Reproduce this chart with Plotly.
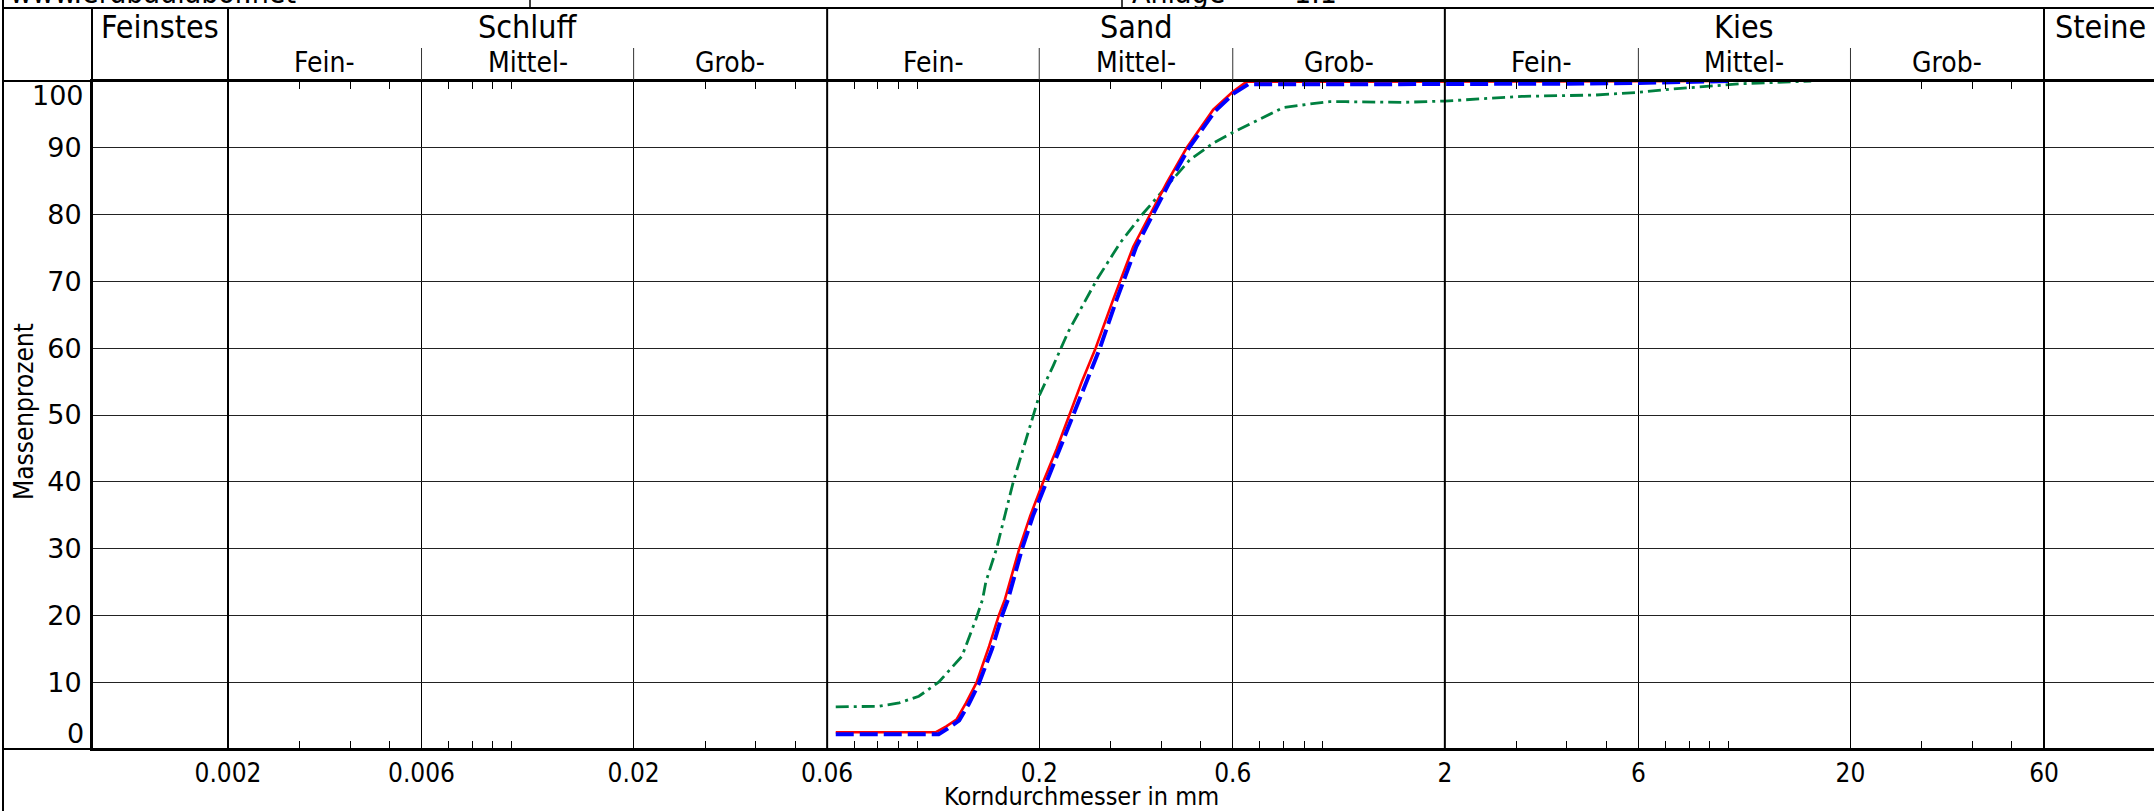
import math
import plotly.graph_objects as go

# ---------------- data ----------------
d_red = [0.063, 0.08, 0.1, 0.111, 0.118, 0.125, 0.132, 0.14, 0.1505, 0.159, 0.1646, 0.1786,
         0.19, 0.2046, 0.2208, 0.2371, 0.2544, 0.2754, 0.304, 0.341, 0.375, 0.412, 0.462,
         0.537, 0.6, 0.649, 1.0, 2.0, 4.0, 6.0, 8.0, 10.0]
p_red = [2.5, 2.5, 2.5, 2.5, 3.4, 4.4, 6.9, 9.9, 15.4, 20.0, 22.4, 30.0,
         34.9, 40.0, 44.9, 50.0, 54.9, 60.0, 67.2, 75.2, 80.0, 84.7, 90.0,
         95.7, 98.4, 99.9, 99.9, 99.9, 99.9, 99.9, 100.0, 100.0]

d_blue = [0.063, 0.08, 0.1, 0.113, 0.12, 0.127, 0.134, 0.142, 0.153, 0.162, 0.1675, 0.1815,
          0.193, 0.2086, 0.225, 0.2426, 0.262, 0.2822, 0.31, 0.347, 0.381, 0.418, 0.468,
          0.543, 0.605, 0.655, 1.0, 2.0, 4.0, 6.0, 8.0, 10.0]
p_blue = [2.2, 2.2, 2.2, 2.2, 3.2, 4.3, 6.7, 9.8, 15.0, 20.0, 22.4, 30.0,
          34.9, 40.0, 44.9, 50.0, 54.9, 60.0, 67.2, 75.2, 80.0, 84.7, 90.0,
          95.5, 98.2, 99.5, 99.5, 99.5, 99.6, 99.7, 99.8, 100.0]

d_green = [0.063, 0.0733, 0.0806, 0.0903, 0.101, 0.113, 0.129, 0.1396, 0.145, 0.1477, 0.157,
           0.1726, 0.1933, 0.2, 0.2166, 0.236, 0.277, 0.316, 0.361, 0.412, 0.47, 0.537, 0.6,
           0.674, 0.797, 0.914, 1.04, 1.14, 1.57, 2.0, 3.1, 4.7, 6.0, 7.3, 8.4, 10.8, 16.0]
p_green = [6.3, 6.3, 6.4, 6.9, 7.9, 10.0, 13.9, 19.4, 22.4, 25.0, 30.0,
           40.0, 50.0, 52.9, 57.4, 62.5, 70.2, 75.7, 80.2, 84.2, 88.2, 90.7, 92.3,
           93.8, 96.0, 96.5, 96.9, 96.9, 96.8, 97.0, 97.7, 97.9, 98.3, 98.8, 99.1, 99.6, 100.0]

x_tickvals = [0.002, 0.006, 0.02, 0.06, 0.2, 0.6, 2, 6, 20, 60]
x_ticktext = ["0.002", "0.006", "0.02", "0.06", "0.2", "0.6", "2", "6", "20", "60"]
x_minor = [0.003, 0.004, 0.005, 0.007, 0.008, 0.009, 0.01,
           0.03, 0.04, 0.05, 0.07, 0.08, 0.09, 0.1,
           0.3, 0.4, 0.5, 0.7, 0.8, 0.9, 1,
           3, 4, 5, 7, 8, 9, 10,
           30, 40, 50]
y_tickvals = [10, 20, 30, 40, 50, 60, 70, 80, 90]
y_ticktext = ["10", "20", "30", "40", "50", "60", "70", "80", "90"]

main_bounds = [0.002, 0.06, 2, 60]          # Schluff | Sand | Kies | Steine
sub_bounds = [0.006, 0.02, 0.2, 0.6, 6, 20]  # Fein/Mittel/Grob dividers
main_groups = ["Schluff", "Sand", "Kies"]
sub_groups = ["Fein-", "Mittel-", "Grob-"]

# ---------------- layout geometry ----------------
W, H = 2154, 811
L, R, T, B = 92, 0, 81, 62
PW, PH = W - L - R, H - T - B
ppd = (2044 - 228) / (math.log10(60) - math.log10(0.002))
xmin = math.log10(0.002) - (228 - L) / ppd
xmax = xmin + PW / ppd


def xp(px):
    return (px - L) / PW


def yp(py):
    return (H - B - py) / PH


COND = "DejaVu Sans Condensed, Liberation Sans Narrow, DejaVu Sans, sans-serif"
WIDE = "DejaVu Sans, Verdana, sans-serif"

fig = go.Figure()
fig.add_trace(go.Scatter(x=d_green, y=p_green, mode="lines",
                         line=dict(color="#008040", width=2.8, dash="13px,5px,3px,5px"),
                         hoverinfo="skip"))
fig.add_trace(go.Scatter(x=d_red, y=p_red, mode="lines",
                         line=dict(color="#ff0000", width=2.6), hoverinfo="skip"))
fig.add_trace(go.Scatter(x=d_blue, y=p_blue, mode="lines",
                         line=dict(color="#0000ff", width=4, dash="18px,6px"),
                         hoverinfo="skip"))

shapes = []
for v in main_bounds:
    shapes.append(dict(type="line", xref="x", yref="paper", x0=v, x1=v, y0=0, y1=yp(8),
                       line=dict(color="black", width=2), layer="above"))
for v in sub_bounds:
    shapes.append(dict(type="line", xref="x", yref="paper", x0=v, x1=v, y0=1, y1=yp(48),
                       line=dict(color="#333333", width=1), layer="above"))
shapes.append(dict(type="line", xref="paper", yref="paper", x0=0, x1=0, y0=0, y1=yp(8),
                   line=dict(color="black", width=2), layer="above"))
shapes.append(dict(type="line", xref="paper", yref="paper", x0=xp(3), x1=xp(3), y0=yp(H), y1=yp(0),
                   line=dict(color="black", width=2), layer="above"))
for py in (8, 81, 749):
    shapes.append(dict(type="line", xref="paper", yref="paper", x0=xp(3), x1=1, y0=yp(py), y1=yp(py),
                       line=dict(color="black", width=2), layer="above"))
for px in (530, 1122):
    shapes.append(dict(type="line", xref="paper", yref="paper", x0=xp(px), x1=xp(px), y0=yp(8), y1=yp(0),
                       line=dict(color="black", width=1.5), layer="above"))


def label(text, x, y, size, family=COND, xref="paper", xanchor="center", angle=0):
    return dict(text=text, xref=xref, yref="paper", x=x, y=y, xanchor=xanchor, yanchor="middle",
                textangle=angle, showarrow=False, font=dict(family=family, size=size, color="black"))


ann = []
hdr_y = yp(27)
sub_y = yp(62)
ann.append(label("Feinstes", xp(160), hdr_y, 32))
for g, lo, hi in zip(main_groups, main_bounds[:-1], main_bounds[1:]):
    ann.append(label(g, (math.log10(lo) + math.log10(hi)) / 2, hdr_y, 32, xref="x"))
    edges = [lo] + [b for b in sub_bounds if lo < b < hi] + [hi]
    for s, a, b in zip(sub_groups, edges[:-1], edges[1:]):
        ann.append(label(s, (math.log10(a) + math.log10(b)) / 2, sub_y, 28, xref="x"))
ann.append(label("Steine", xp(2100), hdr_y, 32))
ann.append(label("100", xp(86), yp(96), 27, family=WIDE, xanchor="right"))
ann.append(label("0", xp(86), yp(733), 27, family=WIDE, xanchor="right"))
ann.append(label("Massenprozent", xp(24), yp(412), 26, angle=-90))
ann.append(label("Korndurchmesser in mm", xp(1081), yp(797), 25))
ann.append(label("www.erdbaulabor.net", xp(8), yp(-8), 30, xanchor="left"))
ann.append(label("Anlage", xp(1130), yp(-8), 30, xanchor="left"))
ann.append(label("1.1", xp(1292), yp(-8), 30, xanchor="left"))

fig.update_layout(
    width=W, height=H,
    margin=dict(l=L, r=R, t=T, b=B, pad=0),
    paper_bgcolor="white", plot_bgcolor="white",
    showlegend=False,
    shapes=shapes, annotations=ann,
    xaxis=dict(type="log", range=[xmin, xmax], tickvals=x_tickvals, ticktext=x_ticktext,
               ticks="", showgrid=True, gridcolor="black", gridwidth=1,
               showline=True, linecolor="black", linewidth=2, mirror="ticks",
               tickfont=dict(family=COND, size=26, color="black"), ticklabelstandoff=0,
               minor=dict(tickvals=x_minor, ticks="inside", ticklen=8, tickwidth=1.2,
                          tickcolor="black", showgrid=False),
               zeroline=False, fixedrange=True, automargin=False),
    yaxis=dict(range=[0, 100], tickvals=y_tickvals, ticktext=y_ticktext, ticks="",
               showgrid=True, gridcolor="#222222", gridwidth=1,
               showline=True, linecolor="black", linewidth=2,
               tickfont=dict(family=WIDE, size=27, color="black"), ticklabelstandoff=3,
               zeroline=False, fixedrange=True, automargin=False),
)

fig.write_html("out.html", config={"displayModeBar": False},
               post_script="document.body.style.margin='0';document.body.style.overflow='hidden';")
